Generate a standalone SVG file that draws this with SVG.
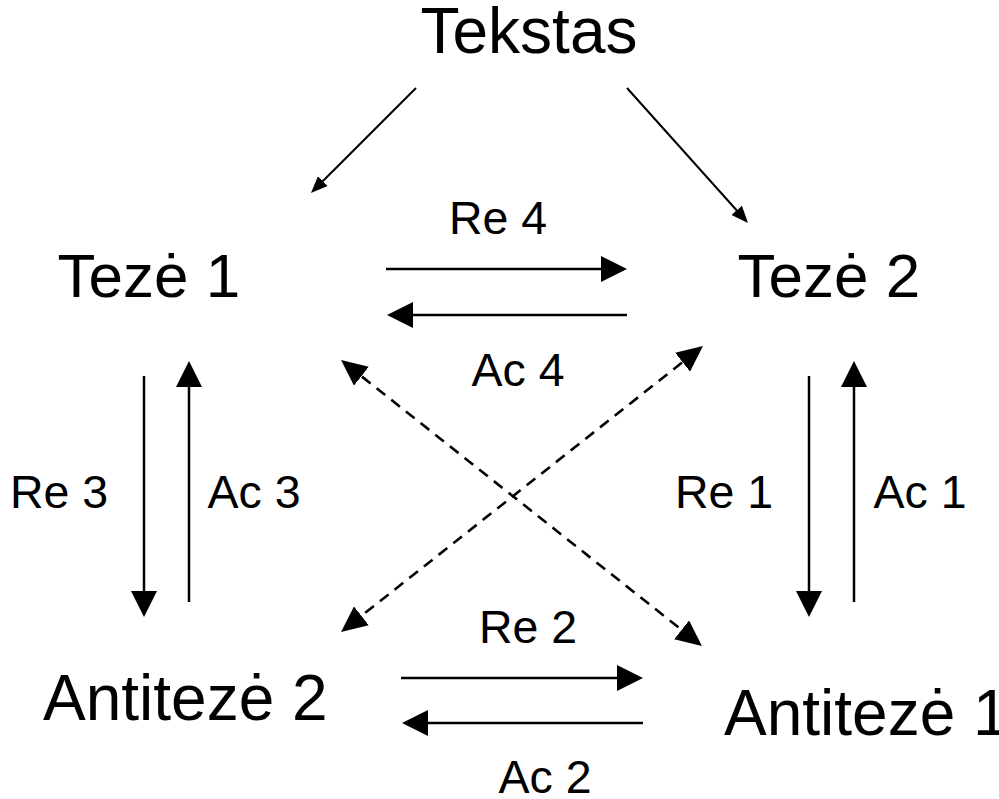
<svg xmlns="http://www.w3.org/2000/svg" width="999" height="799" viewBox="0 0 999 799">
<defs>
<style>
.lbl{font-family:"Liberation Sans",Arial,sans-serif;fill:#000}
.big{font-size:64px}
.mid{font-size:62px}
.sm{font-size:46.5px}
.ln{fill:none;stroke:#000;stroke-width:2.5}
.thin{fill:none;stroke:#000;stroke-width:2}
.dash{fill:none;stroke:#000;stroke-width:2.6;stroke-dasharray:11 7.7}
</style>
<marker id="ah" markerUnits="userSpaceOnUse" markerWidth="26" markerHeight="26" refX="18" refY="13" orient="auto">
<path d="M0,0 L26,13 L0,26 z" fill="#000"/>
</marker>
<marker id="ahs" markerUnits="userSpaceOnUse" markerWidth="17" markerHeight="14" refX="11" refY="7" orient="auto">
<path d="M0,0 L17,7 L0,14 z" fill="#000"/>
</marker>
<marker id="ahd" markerUnits="userSpaceOnUse" markerWidth="26" markerHeight="24" refX="18" refY="12" orient="auto-start-reverse">
<path d="M0,0 L26,12 L0,24 z" fill="#000"/>
</marker>
</defs>
<rect width="999" height="799" fill="#fff"/>
<g id="connectors">
<path class="thin" d="M416,88 L315.2,188.8" marker-end="url(#ahs)"/>
<path class="thin" d="M627,88 L744,218.5" marker-end="url(#ahs)"/>
<path class="ln" d="M386,269 L619,269" marker-end="url(#ah)"/>
<path class="ln" d="M627,315 L395,315" marker-end="url(#ah)"/>
<path class="ln" d="M401,678 L635,678" marker-end="url(#ah)"/>
<path class="ln" d="M643,723 L410,723" marker-end="url(#ah)"/>
<path class="ln" d="M144,376 L144,609" marker-end="url(#ah)"/>
<path class="ln" d="M189,602 L189,369" marker-end="url(#ah)"/>
<path class="ln" d="M809,376 L809,609" marker-end="url(#ah)"/>
<path class="ln" d="M854,602 L854,369" marker-end="url(#ah)"/>
<path class="dash" d="M347.3,365 L695.7,641" marker-start="url(#ahd)" marker-end="url(#ahd)"/>
<path class="dash" d="M696.7,351 L347.3,627" marker-start="url(#ahd)" marker-end="url(#ahd)"/>
<text class="lbl sm" x="449" y="234">Re 4</text>
<text class="lbl sm" x="471.5" y="386">Ac 4</text>
<text class="lbl sm" x="10" y="508">Re 3</text>
<text class="lbl sm" x="207.5" y="508">Ac 3</text>
<text class="lbl sm" x="675" y="508">Re 1</text>
<text class="lbl sm" x="873.5" y="508">Ac 1</text>
<text class="lbl sm" x="479" y="643">Re 2</text>
<text class="lbl sm" x="498.5" y="793">Ac 2</text>
</g>
<g id="node-tekstas"><text class="lbl big" x="420.5" y="53">Tekstas</text></g>
<g id="node-teze1"><text class="lbl mid" x="57.6" y="297">Tezė 1</text></g>
<g id="node-teze2"><text class="lbl mid" x="737.6" y="297">Tezė 2</text></g>
<g id="node-antiteze2"><text class="lbl big" x="43" y="720">Antitezė 2</text></g>
<g id="node-antiteze1"><text class="lbl big" x="724" y="735">Antitezė 1</text></g>
</svg>
